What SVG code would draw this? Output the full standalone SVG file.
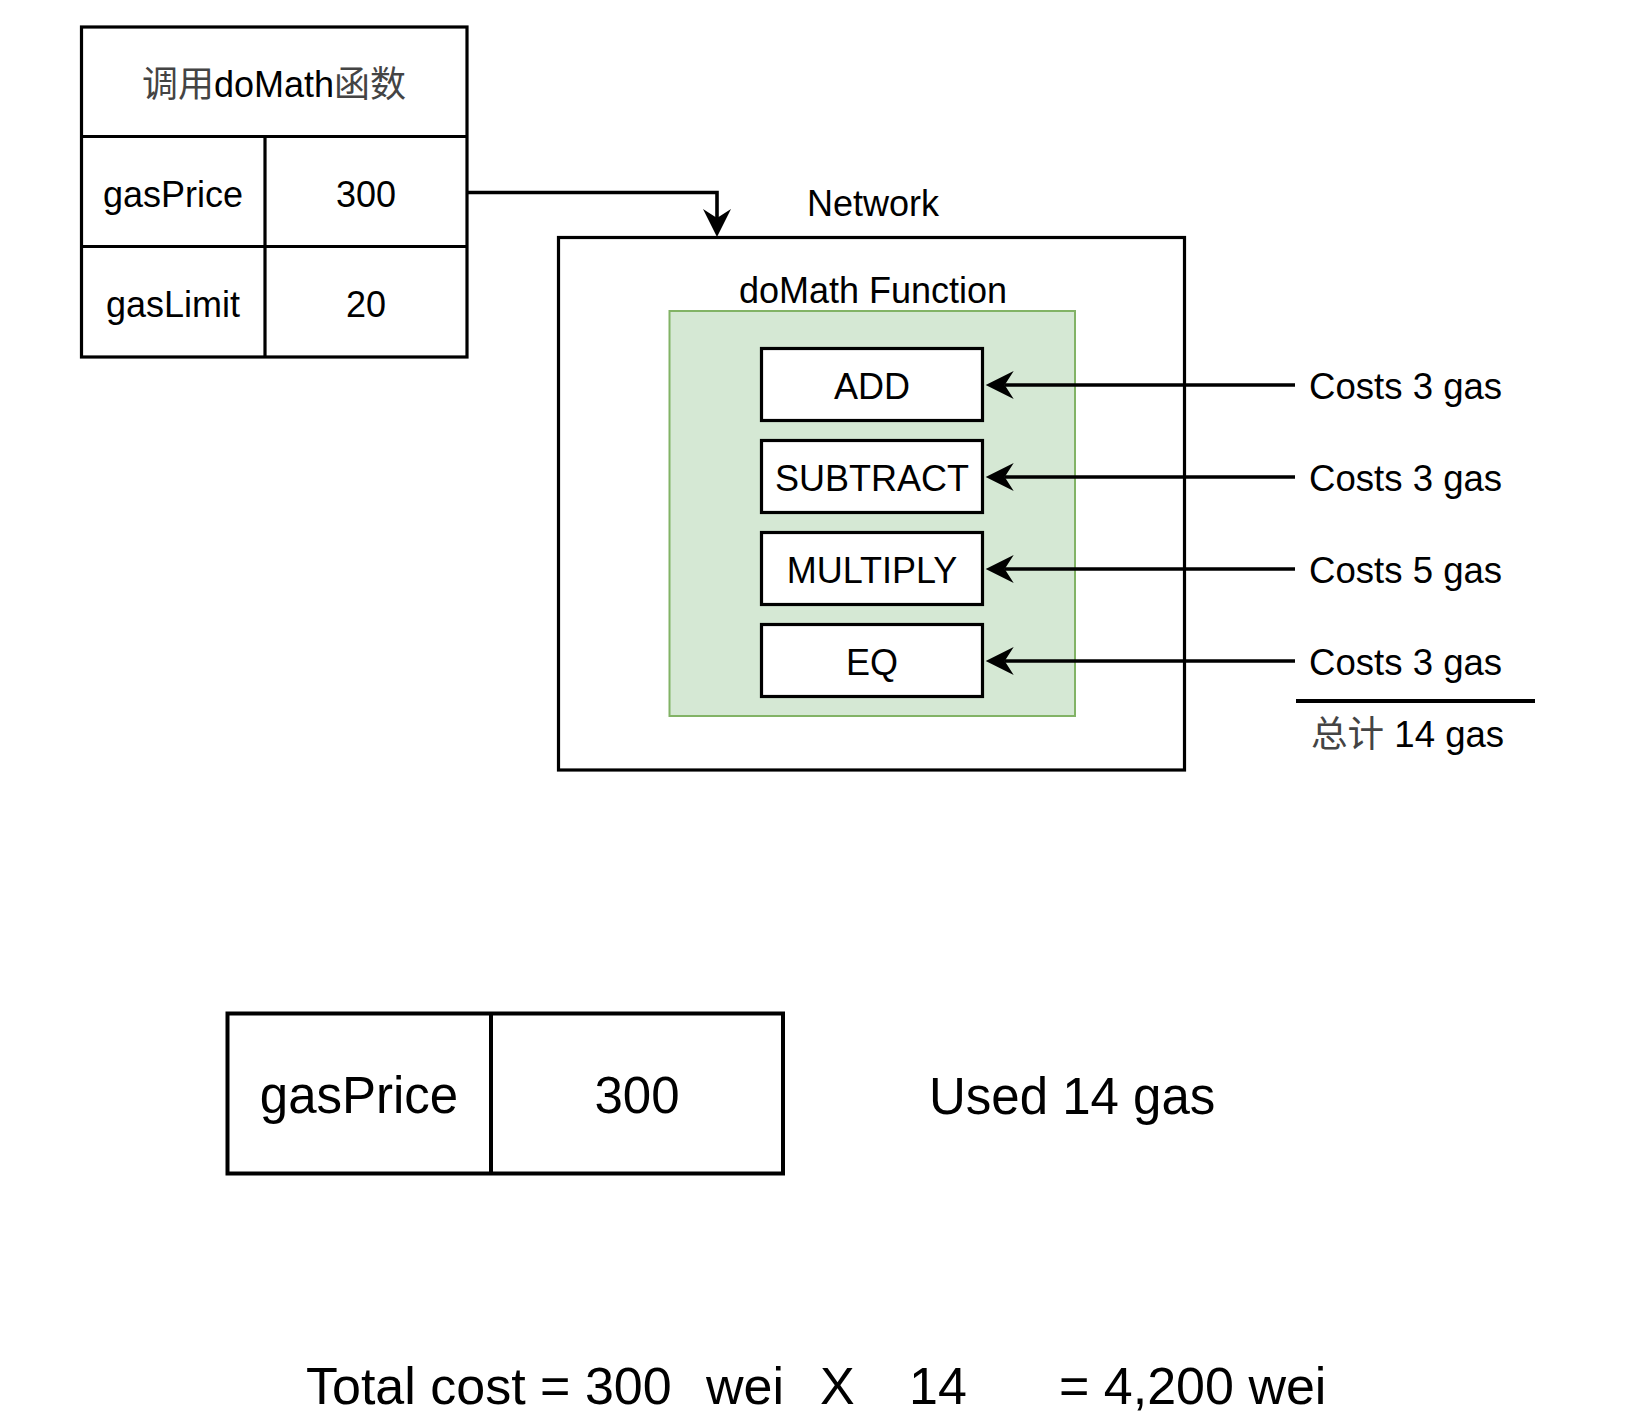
<svg xmlns="http://www.w3.org/2000/svg" width="1628" height="1428" viewBox="0 0 1628 1428">
<defs>
<style>
.t{font-family:"Liberation Sans",Arial,"Noto Sans CJK SC",sans-serif;fill:#000}
.s36{font-size:36px}
.s365{font-size:36.6px}
.s51{font-size:51px}
.s52{font-size:52px}
.c{text-anchor:middle}
.box{fill:#fff;stroke:#000;stroke-width:3.2}
.ln{fill:none;stroke:#000;stroke-width:3.2}
.cn{fill:none;stroke:#000;stroke-width:3.6}
.cjk{fill:#444}
</style>
<marker id="arr" markerUnits="userSpaceOnUse" viewBox="-30 -16 32 32" markerWidth="32" markerHeight="32" refX="-19" refY="0" orient="auto">
<path d="M0,0 L-28,-14 L-19,0 L-28,14 Z" fill="#000"/>
</marker>
</defs>
<rect width="1628" height="1428" fill="#fff"/>

<g id="call-table">
<rect class="box" x="81.5" y="27" width="385.5" height="330"/>
<line class="ln" x1="81.5" y1="136.5" x2="467" y2="136.5"/>
<line class="ln" x1="81.5" y1="246.5" x2="467" y2="246.5"/>
<line class="ln" x1="265" y1="136.5" x2="265" y2="357"/>
<text class="t s36 c" x="274" y="97"><tspan class="cjk">调用</tspan>doMath<tspan class="cjk">函数</tspan></text>
<text class="t s36 c" x="173" y="207">gasPrice</text>
<text class="t s36 c" x="366" y="207">300</text>
<text class="t s36 c" x="173" y="317">gasLimit</text>
<text class="t s36 c" x="366" y="317">20</text>
</g>

<g id="network">
<rect class="box" x="558.5" y="237.5" width="626" height="532.5"/>
<text class="t s36 c" x="873" y="216">Network</text>
</g>

<g id="doMath-function">
<rect x="669.5" y="311" width="405.5" height="405" fill="#d5e8d4" stroke="#82b366" stroke-width="2"/>
<text class="t s36 c" x="873" y="303">doMath Function</text>
</g>

<g id="op-add">
<rect class="box" x="761.5" y="348.5" width="221" height="72"/>
<text class="t s36 c" x="872" y="399">ADD</text>
</g>
<g id="op-subtract">
<rect class="box" x="761.5" y="440.5" width="221" height="72"/>
<text class="t s36 c" x="872" y="491">SUBTRACT</text>
</g>
<g id="op-multiply">
<rect class="box" x="761.5" y="532.5" width="221" height="72"/>
<text class="t s36 c" x="872" y="583">MULTIPLY</text>
</g>
<g id="op-eq">
<rect class="box" x="761.5" y="624.5" width="221" height="72"/>
<text class="t s36 c" x="872" y="675">EQ</text>
</g>

<g id="cost-add"><text class="t s365" x="1309" y="399">Costs 3 gas</text></g>
<g id="cost-subtract"><text class="t s365" x="1309" y="491">Costs 3 gas</text></g>
<g id="cost-multiply"><text class="t s365" x="1309" y="583">Costs 5 gas</text></g>
<g id="cost-eq"><text class="t s365" x="1309" y="675">Costs 3 gas</text></g>
<g id="cost-total">
<line x1="1296" y1="701" x2="1535" y2="701" stroke="#000" stroke-width="4"/>
<text class="t s365" x="1311" y="747"><tspan class="cjk">总计</tspan> 14 gas</text>
</g>

<g id="connectors">
<path class="cn" d="M467,192.5 H717 V218" marker-end="url(#arr)"/>
<line class="cn" x1="1295" y1="385" x2="1004.7" y2="385" marker-end="url(#arr)"/>
<line class="cn" x1="1295" y1="477" x2="1004.7" y2="477" marker-end="url(#arr)"/>
<line class="cn" x1="1295" y1="569" x2="1004.7" y2="569" marker-end="url(#arr)"/>
<line class="cn" x1="1295" y1="661" x2="1004.7" y2="661" marker-end="url(#arr)"/>
</g>

<g id="result-table">
<rect x="227.5" y="1013.5" width="555.5" height="160" fill="#fff" stroke="#000" stroke-width="4"/>
<line x1="491" y1="1013.5" x2="491" y2="1173.5" stroke="#000" stroke-width="4"/>
<text class="t s51 c" x="359" y="1113">gasPrice</text>
<text class="t s51 c" x="637" y="1113">300</text>
</g>

<g id="used-gas"><text class="t s51" x="929" y="1114">Used 14 gas</text></g>

<g id="total-cost">
<text class="t s52" x="306" y="1404">Total cost = 300</text>
<text class="t s52" x="706" y="1404">wei</text>
<text class="t s52" x="820" y="1404">X</text>
<text class="t s52" x="909" y="1404">14</text>
<text class="t s52" x="1059" y="1404">= 4,200 wei</text>
</g>
</svg>
